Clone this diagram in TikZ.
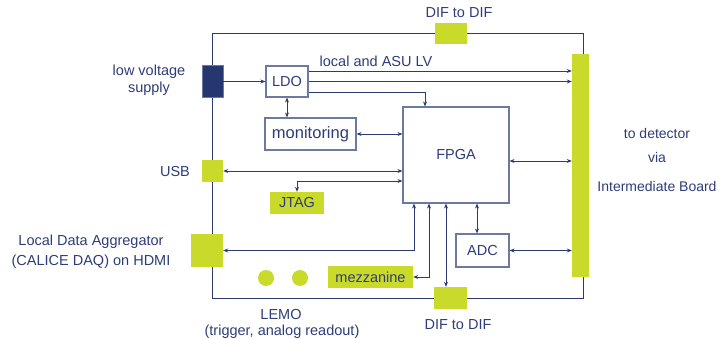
\documentclass[tikz,border=0pt]{standalone}
\usepackage{fontspec}
\setmainfont{Liberation Sans}
\usetikzlibrary{arrows.meta}
\definecolor{navy}{HTML}{26366F}
\definecolor{lime}{HTML}{C9DA2A}
\definecolor{boxline}{HTML}{6B7AA1}
\definecolor{txt}{HTML}{2E3C78}
\definecolor{wire}{HTML}{2B3A75}
\begin{document}
\begin{tikzpicture}[x=1pt,y=-1pt,
  font=\fontsize{14.5}{17}\selectfont, text=txt,
  wbox/.style={draw=boxline, line width=1.1pt, fill=white, inner sep=0pt},
  gbox/.style={fill=lime, inner sep=0pt},
  lbl/.style={inner sep=0pt, align=center},
  wln/.style={draw=wire, line width=0.9pt},
  arr/.style={wln, -{Stealth[length=5pt,width=4pt]}},
  darr/.style={wln, {Stealth[length=5pt,width=4pt]}-{Stealth[length=5pt,width=4pt]}}]
\useasboundingbox (0,0) rectangle (728,339);
% board outline
\draw[wln] (212,33) rectangle (583,298);
% blocks
\node[fill=navy, draw=boxline, inner sep=0pt, minimum width=21pt, minimum height=32pt] (lv) at (212.5,81.5) {};
\node[wbox, minimum width=42pt, minimum height=31pt] (ldo) at (287,81.5) {LDO};
\node[wbox, minimum width=91pt, minimum height=32pt, font=\fontsize{16.5}{19}\selectfont] (mon) at (310.5,134) {monitoring};
\node[wbox, minimum width=106pt, minimum height=96pt] (fpga) at (456,155) {FPGA};
\node[gbox, minimum width=21pt, minimum height=22pt] (usb) at (212.5,171) {};
\node[gbox, minimum width=54pt, minimum height=22pt] (jtag) at (297,203) {JTAG};
\node[gbox, minimum width=32pt, minimum height=33pt] (lda) at (207,250.5) {};
\node[wbox, minimum width=53pt, minimum height=33pt] (adc) at (482.5,250.5) {ADC};
\node[gbox, minimum width=85pt, minimum height=22pt] (mezz) at (370.5,277) {mezzanine};
\node[gbox, minimum width=32pt, minimum height=21pt] (difT) at (451,33.5) {};
\node[gbox, minimum width=33pt, minimum height=22pt] (difB) at (450.5,298) {};
\node[gbox, minimum width=17pt, minimum height=223pt] (bar) at (580.5,165.5) {};
\node[circle, fill=lime, minimum size=16pt, inner sep=0pt] (lemo1) at (266,278) {};
\node[circle, fill=lime, minimum size=16pt, inner sep=0pt] (lemo2) at (300,278) {};
% labels
\node[lbl] (tDIFt) at (459,13) {DIF to DIF};
\node[lbl] (tDIFb) at (458,325) {DIF to DIF};
\node[lbl] (tLV) at (376,61) {local and ASU LV};
\node[lbl] (tlow) at (149,80) {low voltage\\supply};
\node[lbl] (tusb) at (175,172) {USB};
\node[lbl, font=\fontsize{14.5}{20}\selectfont] (tlda) at (91,252) {Local Data Aggregator\\(CALICE DAQ) on HDMI};
\node[lbl] (tlemo) at (281,315) {LEMO};
\node[lbl] (ttrig) at (282,332) {(trigger, analog readout)};
\node[lbl, font=\fontsize{14}{17}\selectfont] (tdet) at (657,133) {to detector};
\node[lbl, font=\fontsize{14}{17}\selectfont] (tvia) at (657,157) {via};
\node[lbl, font=\fontsize{14}{17}\selectfont] (tib) at (657,186) {Intermediate Board};
% connectors
\draw[arr] (lv.east) -- (ldo.west);
\coordinate (l1) at ([yshift=10.5pt]ldo.east);
\coordinate (l3) at ([yshift=-10.5pt]ldo.east);
\draw[arr] (l1) -- (l1 -| bar.west);
\draw[arr] (ldo.east) -- (ldo.east -| bar.west);
\coordinate (f1) at ([xshift=-31pt]fpga.north);
\draw[arr] (l3) -| (f1);
\draw[darr] (ldo.south) -- (ldo.south |- mon.north);
\draw[darr] (mon.east) -- (mon.east -| fpga.west);
\coordinate (fr) at ([yshift=-6pt]fpga.east);
\draw[darr] (fr) -- (fr -| bar.west);
\draw[darr] (usb.east) -- (usb.east -| fpga.west);
\coordinate (fj) at ([yshift=-26pt]fpga.west);
\draw[darr] (fj) -| (jtag.north);
\coordinate (b1) at ([xshift=-42pt]fpga.south);
\coordinate (b2) at ([xshift=-27pt]fpga.south);
\coordinate (b3) at ([xshift=-10pt]fpga.south);
\coordinate (b4) at ([xshift=21pt]fpga.south);
\draw[darr] (b1) |- (lda.east);
\draw[darr] (b2) |- (mezz.east);
\draw[darr] (b3) -- (b3 |- difB.north);
\draw[darr] (b4) -- (b4 |- adc.north);
\draw[darr] (adc.east) -- (adc.east -| bar.west);
\end{tikzpicture}
\end{document}
